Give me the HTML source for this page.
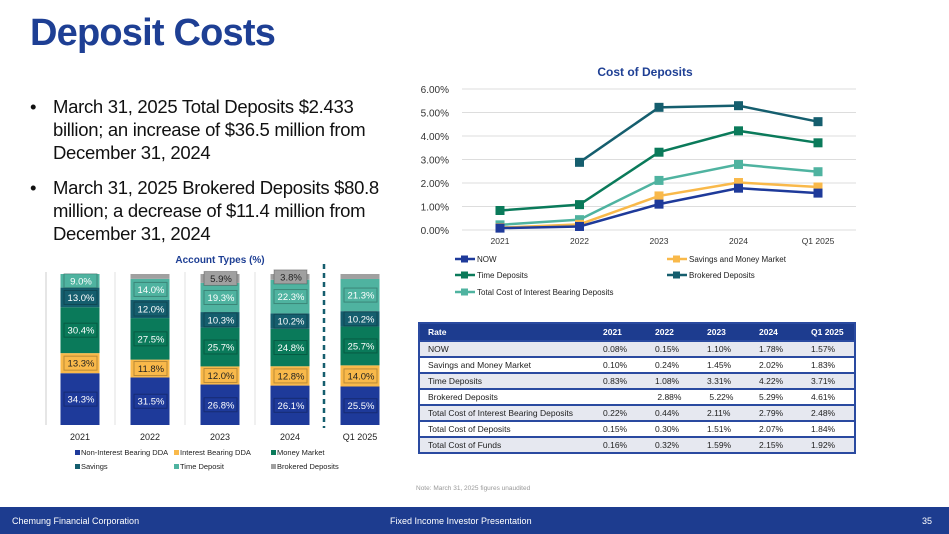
<!DOCTYPE html>
<html><head><meta charset="utf-8"><style>
body{margin:0;width:949px;height:534px;overflow:hidden;background:#fff;font-family:"Liberation Sans",sans-serif;position:relative}
.abs{position:absolute}
#title{left:30px;top:12px;font-size:38px;font-weight:bold;color:#1e3f94;letter-spacing:-0.8px}
.bul{left:30px;font-size:18.5px;color:#111;line-height:23px;width:360px;letter-spacing:-0.3px}
.bul span{position:absolute;left:0}
.bul div{margin-left:23px;width:335px}
#footer{left:0;top:507px;width:949px;height:27px;background:#1d3c8f;color:#fff;font-size:9px}
table{border-collapse:collapse;font-size:8.5px;color:#222;border:2px solid #2a4aa0}
td{height:16px;padding:0 0 0 8px;border-bottom:2px solid #2a4aa0;box-sizing:border-box}
td.n{width:52px}
</style></head><body>
<div class="abs" id="title">Deposit Costs</div>
<div class="abs bul" style="top:95px"><span>•</span><div>March 31, 2025 Total Deposits $2.433 billion; an increase of $36.5 million from December 31, 2024</div></div>
<div class="abs bul" style="top:176px"><span>•</span><div>March 31, 2025 Brokered Deposits $80.8 million; a decrease of $11.4 million from December 31, 2024</div></div>

<svg class="abs" style="left:0;top:0" width="949" height="534" id="charts"></svg>

<table class="abs" style="left:418px;top:322px;width:438px">
<tr style="background:#1d3c8f;color:#fff;font-weight:bold"><td style="height:18px">Rate</td><td class="n">2021</td><td class="n">2022</td><td class="n">2023</td><td class="n">2024</td><td class="n">Q1 2025</td></tr>
<tr style="background:#e6e8f0"><td>NOW</td><td>0.08%</td><td>0.15%</td><td>1.10%</td><td>1.78%</td><td>1.57%</td></tr>
<tr><td>Savings and Money Market</td><td>0.10%</td><td>0.24%</td><td>1.45%</td><td>2.02%</td><td>1.83%</td></tr>
<tr style="background:#e6e8f0"><td>Time Deposits</td><td>0.83%</td><td>1.08%</td><td>3.31%</td><td>4.22%</td><td>3.71%</td></tr>
<tr><td>Brokered Deposits</td><td></td><td>&nbsp;2.88%</td><td>&nbsp;5.22%</td><td>5.29%</td><td>4.61%</td></tr>
<tr style="background:#e6e8f0"><td>Total Cost of Interest Bearing Deposits</td><td>0.22%</td><td>0.44%</td><td>2.11%</td><td>2.79%</td><td>2.48%</td></tr>
<tr><td>Total Cost of Deposits</td><td>0.15%</td><td>0.30%</td><td>1.51%</td><td>2.07%</td><td>1.84%</td></tr>
<tr style="background:#e6e8f0"><td style="border-bottom:none">Total Cost of Funds</td><td style="border-bottom:none">0.16%</td><td style="border-bottom:none">0.32%</td><td style="border-bottom:none">1.59%</td><td style="border-bottom:none">2.15%</td><td style="border-bottom:none">1.92%</td></tr>
</table>
<div class="abs" style="left:416px;top:485px;font-size:6.5px;color:#999">Note: March 31, 2025 figures unaudited</div>

<div class="abs" id="footer">
<span class="abs" style="left:12px;top:9px">Chemung Financial Corporation</span>
<span class="abs" style="left:390px;top:9px">Fixed Income Investor Presentation</span>
<span class="abs" style="left:922px;top:9px">35</span></div>

<script>
const years=["2021","2022","2023","2024","Q1 2025"];
const nowRate=[0.08,0.15,1.10,1.78,1.57];
const savRate=[0.10,0.24,1.45,2.02,1.83];
const timeRate=[0.83,1.08,3.31,4.22,3.71];
const brokRate=[null,2.88,5.22,5.29,4.61];
const totalIB=[0.22,0.44,2.11,2.79,2.48];
const yTicks=[0,1,2,3,4,5,6];
const barNIB=[34.3,31.5,26.8,26.1,25.5];
const barIB=[13.3,11.8,12.0,12.8,14.0];
const barMM=[30.4,27.5,25.7,24.8,25.7];
const barSav=[13.0,12.0,10.3,10.2,10.2];
const barTime=[9.0,14.0,19.3,22.3,21.3];
const barBrok=[0,3.2,5.9,3.8,3.3];
const svg=document.getElementById('charts');const NS='http://www.w3.org/2000/svg';
function mk(t,a,txt){const e=document.createElementNS(NS,t);for(const k in a)e.setAttribute(k,a[k]);if(txt!==undefined)e.textContent=txt;svg.appendChild(e);return e;}
const lx=i=>500+i*79.5, ly=v=>230-v*23.5;
let e=mk('text',{x:645,y:76,'font-size':12,'font-weight':'bold',fill:'#1e3f94','text-anchor':'middle'},'Cost of Deposits');

yTicks.forEach(t=>{let g=mk('line',{x1:462,x2:856,y1:ly(t),y2:ly(t),stroke:'#ddd'});
let l=mk('text',{x:449,y:ly(t)+4,'font-size':10,fill:'#333','text-anchor':'end'},t.toFixed(2)+'%');});
years.forEach((y,i)=>{let l=mk('text',{x:lx(i),y:244,'font-size':8.5,fill:'#333','text-anchor':'middle'},y);});
const series=[["now",nowRate,'#1e3a9a'],["savings-mm",savRate,'#f9b94a'],["time-deposits",timeRate,'#0a7a5a'],["brokered",brokRate,'#155e6e'],["total-ib",totalIB,'#4fb3a0']];
[4,3,2,1,0].forEach(si=>{const [n,d,c]=series[si];let pts=[];d.forEach((v,i)=>{if(v!==null)pts.push(lx(i)+','+ly(v));});
let p=mk('polyline',{points:pts.join(' '),fill:'none',stroke:c,'stroke-width':2.5});
d.forEach((v,i)=>{if(v===null)return;let r=mk('rect',{x:lx(i)-4.5,y:ly(v)-4.5,width:9,height:9,fill:c});});});
const leg=[["NOW",455,259,'#1e3a9a'],["Savings and Money Market",667,259,'#f9b94a'],["Time Deposits",455,275,'#0a7a5a'],["Brokered Deposits",667,275,'#155e6e'],["Total Cost of Interest Bearing Deposits",455,292,'#4fb3a0']];
leg.forEach(([t,x,y,c])=>{let a=mk('line',{x1:x,x2:x+20,y1:y,y2:y,stroke:c,'stroke-width':2.5});
let b=mk('rect',{x:x+6,y:y-3.5,width:7,height:7,fill:c});
let l=mk('text',{x:x+22,y:y+3,'font-size':8,fill:'#222'},t);});
const bx=i=>80+i*70, by=v=>425-v*1.51;
e=mk('text',{x:220,y:263,'font-size':10,'font-weight':'bold',fill:'#1e3f94','text-anchor':'middle'},'Account Types (%)');

e=mk('line',{x1:46,x2:46,y1:272,y2:425,stroke:'#ccc'});
[115,185,255].forEach(x=>{let s=mk('line',{x1:x,x2:x,y1:272,y2:425,stroke:'#e0e0e0'});});
e=mk('line',{x1:324,x2:324,y1:264,y2:428,stroke:'#155e6e','stroke-width':2.5,'stroke-dasharray':'5,4'});
const stacks=[["nib",barNIB,'#1e3a9a'],["ib",barIB,'#f9b94a'],["mm",barMM,'#0a7a5a'],["savings",barSav,'#155e6e'],["time",barTime,'#4fb3a0'],["brokered",barBrok,'#a0a0a0']];
years.forEach((y,i)=>{let base=0;stacks.forEach(([n,d,c],si)=>{const v=d[i];if(!v)return;
let r=mk('rect',{x:bx(i)-19.5,y:by(base+v),width:39,height:v*1.51,fill:c});
if(!(si===5&&v<3.5)){const cy=by(base+v/2);let bgc=si===1?'#f9b94a':c;
let bb=mk('rect',{x:bx(i)-16,y:cy-7,width:33,height:14,fill:bgc,stroke:'rgba(0,0,0,0.25)','stroke-width':1});
let t=mk('text',{x:bx(i)+1,y:cy+3.5,'font-size':9.5,fill:(si===1||si===5)?'#222':'#fff','text-anchor':'middle'},v.toFixed(1)+'%');}
base+=v;});
let l=mk('text',{x:bx(i),y:440,'font-size':9,fill:'#222','text-anchor':'middle'},y);});
const bleg=[["Non-Interest Bearing DDA",75,455,'#1e3a9a'],["Interest Bearing DDA",174,455,'#f9b94a'],["Money Market",271,455,'#0a7a5a'],["Savings",75,469,'#155e6e'],["Time Deposit",174,469,'#4fb3a0'],["Brokered Deposits",271,469,'#a0a0a0']];
bleg.forEach(([t,x,y,c])=>{let b=mk('rect',{x:x,y:y-5,width:5,height:5,fill:c});
let l=mk('text',{x:x+6,y:y,'font-size':7.5,fill:'#222'},t);});
</script>
</body></html>
